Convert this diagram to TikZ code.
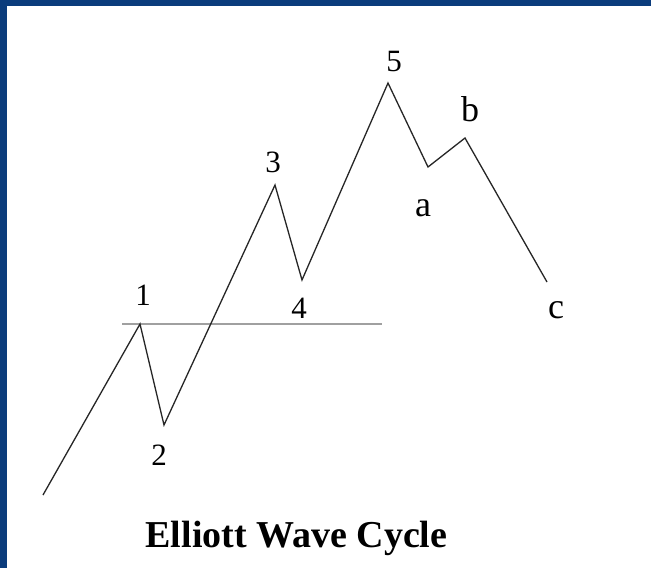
\documentclass[tikz,border=0pt]{standalone}
\usepackage{fontspec}
\setmainfont{Liberation Serif}
\definecolor{frameblue}{HTML}{0B3C7C}
\definecolor{refgray}{HTML}{A0A0A0}
\begin{document}
\begin{tikzpicture}[x=1pt,y=-1pt,
  wave/.style={draw=black!85, line width=1.3pt, line join=miter},
  refline/.style={draw=refgray, line width=1.3pt},
  digit/.style={anchor=base, inner sep=0pt, font=\fontsize{31}{31}\selectfont},
  letter/.style={anchor=base, inner sep=0pt, font=\fontsize{36}{36}\selectfont},
  title/.style={anchor=base, inner sep=0pt, font=\fontsize{38}{38}\selectfont\bfseries}]
\useasboundingbox (0,0) rectangle (651,568);
\fill[white] (0,0) rectangle (651,568);
\fill[frameblue] (0,0) rectangle (651,5.5);
\fill[frameblue] (0,0) rectangle (6.5,568);
% wave points
\coordinate (p0) at (43,495);
\coordinate (p1) at (140,324);
\coordinate (p2) at (164,425);
\coordinate (p3) at (275,185);
\coordinate (p4) at (302,280);
\coordinate (p5) at (388,83);
\coordinate (pa) at (428,167);
\coordinate (pb) at (465,138);
\coordinate (pc) at (547,282);
\coordinate (hL) at (122,324);
\coordinate (hR) at (382,324);
\draw[refline] (hL) -- (hR);
\draw[wave] (p0) -- (p1) -- (p2) -- (p3) -- (p4) -- (p5) -- (pa) -- (pb) -- (pc);
% labels
\node[digit] (l1) at (143,305) {1};
\node[digit] (l2) at (159,465) {2};
\node[digit] (l3) at (273,172) {3};
\node[digit] (l4) at (299,318) {4};
\node[digit] (l5) at (394,71) {5};
\node[letter] (la) at (423,216) {a};
\node[letter] (lb) at (470,121) {b};
\node[letter] (lc) at (556,318) {c};
\node[title] (t) at (296.5,547) {Elliott Wave Cycle};
\end{tikzpicture}
\end{document}
